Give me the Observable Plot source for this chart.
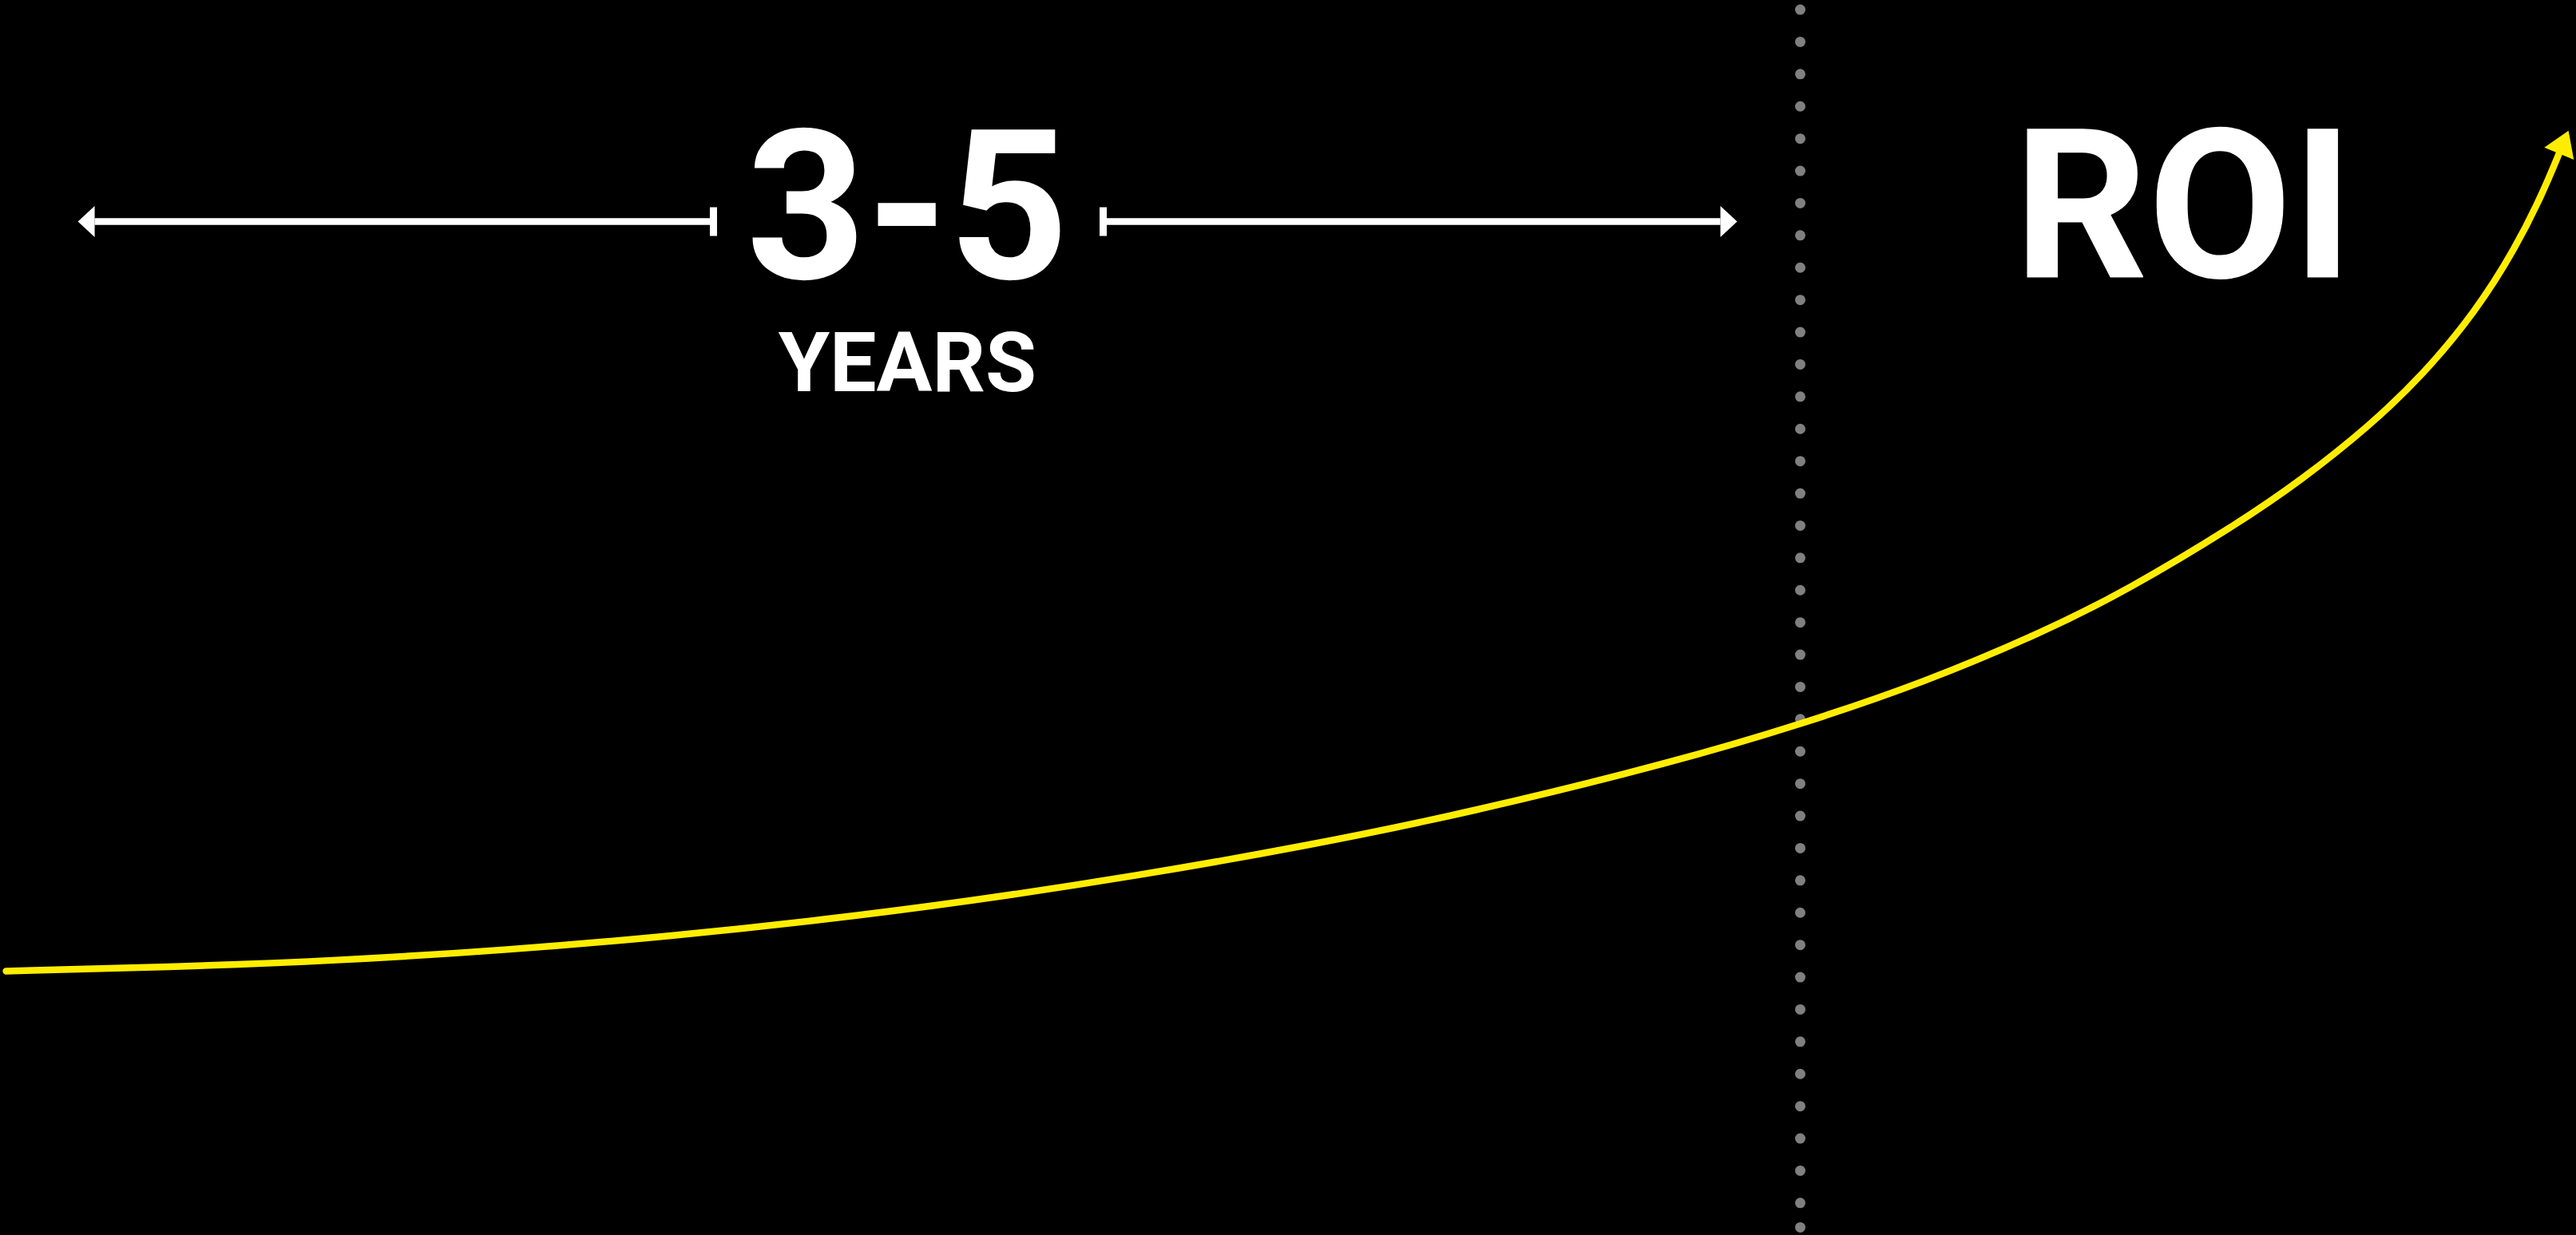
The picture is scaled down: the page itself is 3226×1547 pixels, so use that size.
<!DOCTYPE html>
<html>
<head>
<meta charset="utf-8">
<script src="https://cdn.jsdelivr.net/npm/d3@7"></script>
<script src="https://cdn.jsdelivr.net/npm/@observablehq/plot@0.6"></script>
<style>
  html, body { margin: 0; padding: 0; background: #000; overflow: hidden; }
  #chart svg { display: block; }
</style>
</head>
<body>
<div id="chart"></div>
<script>
// ---- Data (time on x, ROI on y, both on a 0–100 conceptual scale) ----
const curveTime = [0.22, 6.51, 13.05, 19.56, 26.10, 31.87, 37.51, 44.05, 50.56, 57.10, 65.10, 69.87, 74.64, 79.39, 82.55, 86.79, 89.37, 91.97, 94.02, 96.09, 97.64, 98.67, 99.35];
const curveRoi  = [21.40, 21.72, 22.24, 23.08, 24.24, 25.53, 27.02, 29.09, 31.48, 34.26, 38.40, 41.37, 44.73, 48.93, 52.23, 57.53, 61.22, 65.55, 69.62, 74.79, 79.96, 84.29, 87.72];

// payback horizon span (time units) and its label level
const spanStart = [3.66, 42.81];   // left arrow base, right segment start
const spanEnd   = [27.68, 66.77];  // left segment end, right arrow base
const spanLevel = 82.09;

// divider between payback period and ROI phase
const dividerTime = 69.87;
const dividerTop = 99.22;
const dividerBottom = 0.65;

// labels
const labelText  = ["3-5", "YEARS", "ROI"];
const labelTime  = [35.21, 35.21, 84.75];
const labelLevel = [77.50, 68.39, 77.57];
const labelSize  = [262, 104, 262];

const curve = curveTime.map((t, i) => ({t, roi: curveRoi[i]}));
const labels = labelText.map((text, i) => ({text, t: labelTime[i], v: labelLevel[i], size: labelSize[i]}));

// ---- custom SVG markers ----
const NS = "http://www.w3.org/2000/svg";
function makeMarker(d) {
  return (color) => {
    const m = document.createElementNS(NS, "marker");
    m.setAttribute("viewBox", "-60 -60 120 120");
    m.setAttribute("markerWidth", 120);
    m.setAttribute("markerHeight", 120);
    m.setAttribute("markerUnits", "userSpaceOnUse");
    m.setAttribute("orient", "auto");
    m.setAttribute("overflow", "visible");
    const p = document.createElementNS(NS, "path");
    p.setAttribute("d", d);
    p.setAttribute("fill", color);
    p.setAttribute("stroke", "none");
    m.appendChild(p);
    return m;
  };
}
const headOut   = makeMarker("M0,-19.5L21,0L0,19.5Z");   // points forward at path end
const headBack  = makeMarker("M0,-19.5L-21,0L0,19.5Z");  // points backward at path start
const tickBar   = makeMarker("M-4.5,-18H4.5V18H-4.5Z");
const curveHead = makeMarker("M-2,-20L29,0L-2,20Z");

const plot = Plot.plot({
  width: 3226,
  height: 1547,
  margin: 0,
  x: {domain: [0, 100], axis: null},
  y: {domain: [0, 100], axis: null},
  style: {background: "#000", overflow: "visible"},
  marks: [
    // dotted divider
    Plot.ruleX([dividerTime], {
      y1: dividerTop, y2: dividerBottom,
      stroke: "#808080", strokeWidth: 13,
      strokeDasharray: "0 40.4", strokeLinecap: "round"
    }),
    Plot.dot([dividerTime], {x: d => d, y: dividerBottom, r: 6.5, fill: "#808080", stroke: "none"}),
    // span arrows
    Plot.link([0], {
      x1: () => spanStart[0], x2: () => spanEnd[0], y1: spanLevel, y2: spanLevel,
      stroke: "#fff", strokeWidth: 8.5, markerStart: headBack, markerEnd: tickBar
    }),
    Plot.link([0], {
      x1: () => spanStart[1], x2: () => spanEnd[1], y1: spanLevel, y2: spanLevel,
      stroke: "#fff", strokeWidth: 8.5, markerStart: tickBar, markerEnd: headOut
    }),
    // ROI curve
    Plot.line(curve, {
      x: "t", y: "roi", curve: "basis",
      stroke: "#FFED00", strokeWidth: 8.5, markerEnd: curveHead
    }),
    // labels
    Plot.text(labels, {
      x: "t", y: "v", text: "text", fontSize: "size",
      fill: "#fff", fontWeight: 700, fontFamily: "Roboto",
      textAnchor: "middle", lineAnchor: "bottom"
    })
  ]
});
document.getElementById("chart").appendChild(plot);
</script>
</body>
</html>
